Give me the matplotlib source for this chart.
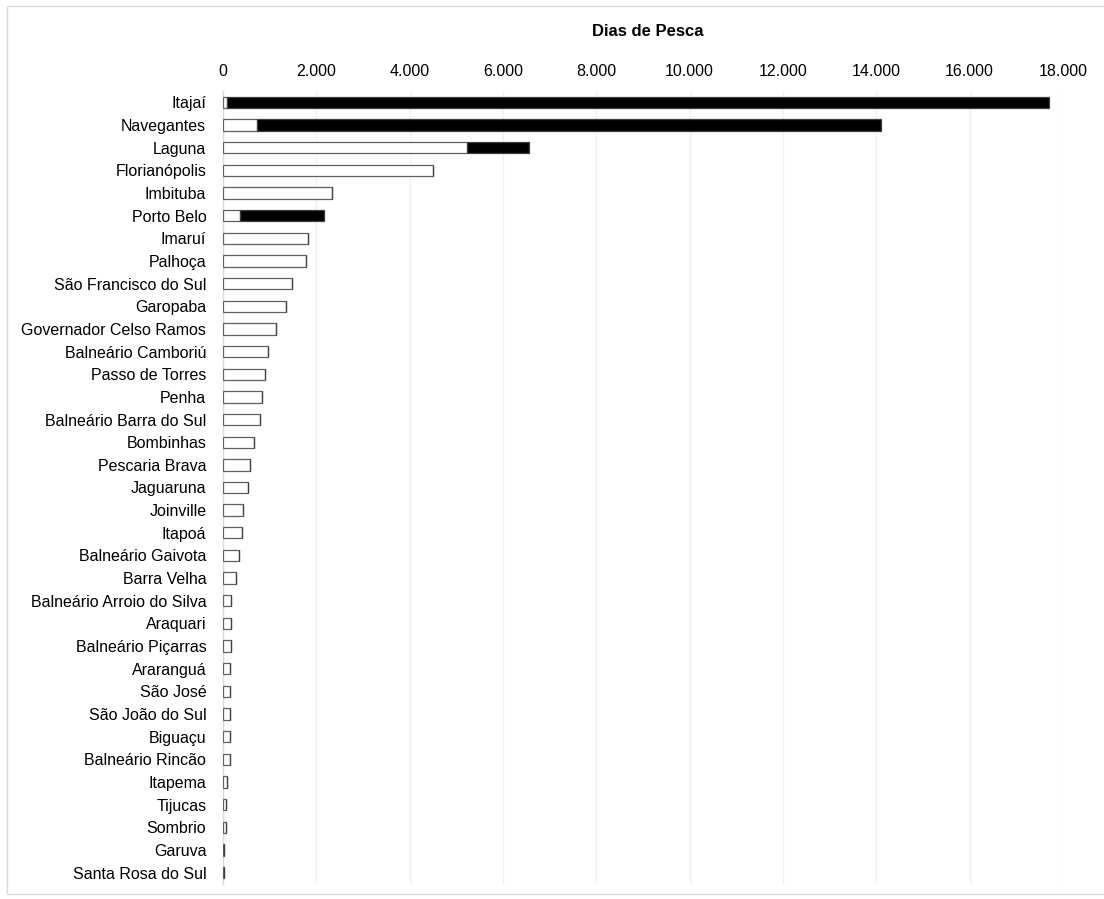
import matplotlib
matplotlib.use("Agg")
import matplotlib.pyplot as plt
from matplotlib.ticker import FuncFormatter, MultipleLocator
from matplotlib.patches import Rectangle

plt.rcParams['font.family'] = ['Liberation Sans', 'DejaVu Sans']

# municípios, de cima para baixo
municipios = [
    "Itajaí", "Navegantes", "Laguna", "Florianópolis", "Imbituba", "Porto Belo",
    "Imaruí", "Palhoça", "São Francisco do Sul", "Garopaba",
    "Governador Celso Ramos", "Balneário Camboriú", "Passo de Torres", "Penha",
    "Balneário Barra do Sul", "Bombinhas", "Pescaria Brava", "Jaguaruna",
    "Joinville", "Itapoá", "Balneário Gaivota", "Barra Velha",
    "Balneário Arroio do Silva", "Araquari", "Balneário Piçarras", "Araranguá",
    "São José", "São João do Sul", "Biguaçu", "Balneário Rincão", "Itapema",
    "Tijucas", "Sombrio", "Garuva", "Santa Rosa do Sul",
]

# dias de pesca: frota artesanal (branco) e industrial (preto)
artesanal = [
    86, 730, 5230, 4500, 2345, 370,
    1820, 1780, 1480, 1360,
    1130, 970, 910, 845,
    800, 670, 580, 545,
    435, 415, 350, 280,
    170, 165, 165, 160,
    145, 145, 140, 140, 95,
    60, 65, 15, 15,
]
industrial = [
    17604, 13360, 1330, 0, 0, 1795,
    0, 0, 0, 0,
    0, 0, 0, 0,
    0, 0, 0, 0,
    0, 0, 0, 0,
    0, 0, 0, 0,
    0, 0, 0, 0, 0,
    0, 0, 0, 0,
]

fig = plt.figure(figsize=(11.04, 8.99), dpi=100)
ax = fig.add_axes([223 / 1104, 15 / 899, (1063 - 223) / 1104, 793 / 899])

# moldura do gráfico
fig.patches.append(Rectangle((7 / 1104, 5 / 899), 1.2, 893 / 899 - 5 / 899,
                             transform=fig.transFigure, fill=False,
                             edgecolor='#d9d9d9', linewidth=1.0))

y = list(range(len(municipios)))
ax.barh(y, artesanal, height=0.5, color='white', edgecolor='#606060', linewidth=0.9, zorder=3)
ax.barh(y, industrial, left=artesanal, height=0.5, color='black', edgecolor='#404040',
        linewidth=0.9, zorder=3)

ax.set_ylim(len(municipios) - 0.5, -0.5)
ax.set_yticks(y)
ax.set_yticklabels(municipios, fontsize=11.5)
ax.set_xlim(0, 18000)
ax.xaxis.set_major_locator(MultipleLocator(2000))
ax.xaxis.set_major_formatter(FuncFormatter(lambda v, p: f"{int(v):,}".replace(",", ".")))
ax.xaxis.tick_top()
ax.tick_params(axis='x', length=0, pad=9, labelsize=11.5, colors='#404040')
ax.tick_params(axis='y', length=0, pad=12, colors='#404040')
for lab in ax.get_xticklabels():
    lab.set_color('black')
for lab in ax.get_yticklabels():
    lab.set_color('black')

ax.grid(axis='x', color='#efefef', linewidth=0.9, zorder=0)
for s in ['top', 'right', 'bottom']:
    ax.spines[s].set_visible(False)
ax.spines['left'].set_color('#d9d9d9')
ax.spines['left'].set_linewidth(1.0)

fig.text(648 / 1104, 1 - 31 / 899, "Dias de Pesca", ha='center', va='center',
         fontsize=12, fontweight='bold')

fig.savefig("out.png", dpi=100)
